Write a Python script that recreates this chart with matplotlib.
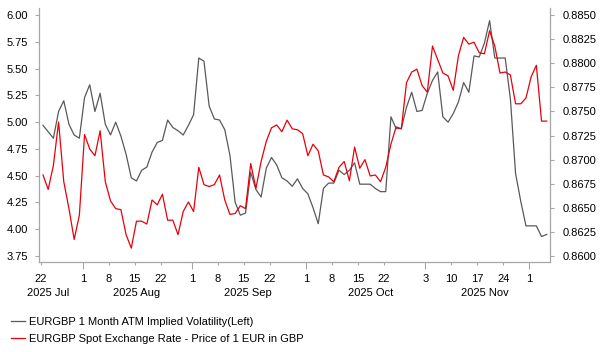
import numpy as np
import pandas as pd
import matplotlib
matplotlib.use('Agg')
import matplotlib.pyplot as plt
from matplotlib import transforms

plt.rcParams['font.family'] = ['Liberation Sans', 'DejaVu Sans']

# business days, 22 Jul 2025 .. 4 Dec 2025
dates = pd.bdate_range('2025-07-22', periods=98)

# EURGBP 1M ATM implied vol (left axis)
vol = [4.97, 4.91, 4.85, 5.10, 5.20, 4.98, 4.88, 4.85, 5.23, 5.35,
       5.10, 5.27, 4.98, 4.88, 5.00, 4.87, 4.70, 4.48, 4.45, 4.55,
       4.58, 4.72, 4.81, 4.83, 5.02, 4.95, 4.92, 4.88, 4.97, 5.07,
       5.60, 5.57, 5.15, 5.03, 5.02, 4.93, 4.69, 4.25, 4.13, 4.15,
       4.53, 4.37, 4.30, 4.57, 4.67, 4.60, 4.48, 4.45, 4.40, 4.47,
       4.38, 4.33, 4.20, 4.05, 4.38, 4.43, 4.43, 4.55, 4.51, 4.55,
       4.62, 4.42, 4.42, 4.42, 4.38, 4.35, 4.35, 5.05, 4.94, 4.94,
       5.14, 5.28, 5.10, 5.11, 5.27, 5.39, 5.47, 5.05, 5.00, 5.08,
       5.19, 5.37, 5.28, 5.62, 5.61, 5.74, 5.95, 5.60, 5.60, 5.60,
       5.22, 4.52, 4.26, 4.03, 4.03, 4.03, 3.93, 3.95]

# EURGBP spot (right axis)
spot = [0.8684, 0.8669, 0.8694, 0.8739, 0.8677, 0.8649, 0.8617, 0.8642, 0.8726, 0.8711,
        0.8704, 0.8730, 0.8677, 0.8657, 0.8649, 0.8648, 0.8622, 0.8608, 0.8636, 0.8636,
        0.8633, 0.8658, 0.8653, 0.8664, 0.8637, 0.8637, 0.8622, 0.8646, 0.8656, 0.8646,
        0.8692, 0.8674, 0.8672, 0.8674, 0.8684, 0.8658, 0.8643, 0.8644, 0.8652, 0.8649,
        0.8696, 0.8670, 0.8698, 0.8719, 0.8733, 0.8736, 0.8729, 0.8741, 0.8732, 0.8731,
        0.8727, 0.8704, 0.8716, 0.8709, 0.8684, 0.8682, 0.8677, 0.8692, 0.8698, 0.8678,
        0.8713, 0.8691, 0.8700, 0.8683, 0.8684, 0.8677, 0.8692, 0.8716, 0.8734, 0.8732,
        0.8780, 0.8791, 0.8794, 0.8777, 0.8770, 0.8818, 0.8804, 0.8790, 0.8787, 0.8772,
        0.8808, 0.8827, 0.8820, 0.8822, 0.8811, 0.8810, 0.8834, 0.8818, 0.8790, 0.8791,
        0.8788, 0.8758, 0.8758, 0.8764, 0.8786, 0.8798, 0.8740, 0.8740]

week_ticks = ['2025-07-22', '2025-08-01', '2025-08-08', '2025-08-15', '2025-08-22',
              '2025-09-01', '2025-09-08', '2025-09-15', '2025-09-22',
              '2025-10-01', '2025-10-08', '2025-10-15', '2025-10-22',
              '2025-11-03', '2025-11-10', '2025-11-17', '2025-11-24', '2025-12-01']
month_ticks = ['2025-08-01', '2025-09-01', '2025-10-01', '2025-11-03', '2025-12-01']
month_labels = ['2025 Jul', '2025 Aug', '2025 Sep', '2025 Oct', '2025 Nov']
month_pos = [1.3, 18.3, 39.8, 63.5, 85.5]

legend_labels = ['EURGBP 1 Month ATM Implied Volatility(Left)',
                 'EURGBP Spot Exchange Rate - Price of 1 EUR in GBP']

x = np.arange(len(dates)) + 0.35  # points sit a touch right of the day ticks
wk = dates.get_indexer(pd.to_datetime(week_ticks))
mj = dates.get_indexer(pd.to_datetime(month_ticks))
mn = [p for p in wk if p not in mj]

W, H = 603, 352
fig = plt.figure(figsize=(W / 100, H / 100), dpi=100)
ax = fig.add_axes([39 / W, 1 - 262 / H, (550 - 39) / W, (262 - 8) / H])
ax2 = ax.twinx()

spine_col = '#a6a6a6'
txt_col = '#000000'

l1, = ax.plot(x, vol, color='#595959', lw=0.9)
l2, = ax2.plot(x, spot, color='#e8000b', lw=0.9)

ax.set_xlim(-0.42, 97.98)
ax.set_ylim(3.692, 6.068)
ax2.set_ylim(0.859356, 0.885756)

ax.set_yticks(np.arange(3.75, 6.01, 0.25))
ax.set_yticklabels(['%.2f' % v for v in np.arange(3.75, 6.01, 0.25)])
ax2.set_yticks(np.arange(0.86, 0.8851, 0.0025))
ax2.set_yticklabels(['%.4f' % v for v in np.arange(0.86, 0.8851, 0.0025)])

for s in ['top', 'right']:
    ax.spines[s].set_visible(False)
for s in ['top', 'left', 'bottom']:
    ax2.spines[s].set_visible(False)
for a in (ax, ax2):
    for s in a.spines.values():
        s.set_color(spine_col)
        s.set_linewidth(0.9)

ax.tick_params(axis='y', length=3, width=0.8, color=spine_col, pad=5,
               labelsize=8, labelcolor=txt_col)
ax2.tick_params(axis='y', length=3, width=0.8, color=spine_col, pad=6,
                labelsize=8, labelcolor=txt_col)

ax.set_xticks(mj)
ax.set_xticks(mn, minor=True)
ax.set_xticklabels([])
ax.tick_params(axis='x', which='major', length=5, width=0.8, color=spine_col)
ax.tick_params(axis='x', which='minor', length=2.5, width=0.8, color=spine_col)

trans = transforms.blended_transform_factory(ax.transData, fig.transFigure)
for p, d in zip(wk, week_ticks):
    ax.text(p, 1 - 279 / H, str(int(d[-2:])), transform=trans, ha='center',
            va='center', fontsize=8, color=txt_col, clip_on=False)
for p, m in zip(month_pos, month_labels):
    ax.text(p, 1 - 293 / H, m, transform=trans, ha='center', va='center',
            fontsize=8, color=txt_col, clip_on=False)

fig.legend([l1, l2], legend_labels, loc='upper left',
           bbox_to_anchor=(11 / W, 1 - 317 / H), frameon=False, fontsize=8,
           handlelength=1.26, handletextpad=0.36, labelspacing=0.6,
           borderpad=0, borderaxespad=0, labelcolor=txt_col)

fig.savefig('out.png', dpi=100)
